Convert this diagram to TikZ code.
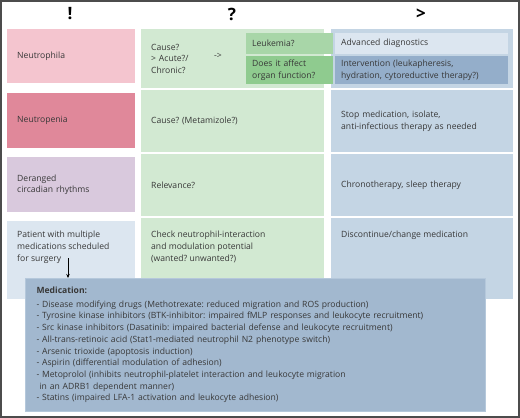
\documentclass[tikz,border=0pt]{standalone}
\usepackage{xcolor}
\usepackage{fontspec}
\setsansfont{Open Sans}
\usepackage{tikz}
\usetikzlibrary{arrows.meta}
\frenchspacing

\definecolor{rosel}{HTML}{F4C5CF}
\definecolor{rosed}{HTML}{E0889A}
\definecolor{lilac}{HTML}{D9C9DD}
\definecolor{skyl}{HTML}{DCE6F0}
\definecolor{mintbg}{HTML}{D2E9D2}
\definecolor{mintl}{HTML}{A8D6A8}
\definecolor{mintd}{HTML}{8FCB8F}
\definecolor{steelbg}{HTML}{C4D5E4}
\definecolor{steeld}{HTML}{94AECA}
\definecolor{medfill}{HTML}{A2B8CF}
\definecolor{medline}{HTML}{B5C8DB}
\definecolor{ink}{HTML}{383838}

\begin{document}
\begin{tikzpicture}[x=1pt, y=-1pt,
  every node/.style={font=\sffamily\frenchspacing\fontsize{8.6}{11.7}\selectfont, text=ink},
  cell/.style={anchor=north west, inner xsep=10pt, inner ysep=0pt, align=left},
  inbox/.style={anchor=north west, inner xsep=6pt, inner ysep=0pt, align=left},
  head/.style={font=\sffamily\bfseries\fontsize{17}{17}\selectfont, text=black}]

\useasboundingbox (0,0) rectangle (520,418);
\draw[line width=2pt, ink!90] (1,1) rectangle (519,417);

% Headers
\node[head] (hwarn) at (70,14) {!};
\node[head] (hask) at (232,14) {?};
\node[head] (hdo) at (421,14) {>};

% First column
\node[cell, fill=rosel, text width=108pt, minimum height=54pt] (neutrophila) at (7,29) {Neutrophila};
\node[cell, fill=rosed, text width=108pt, minimum height=55pt] (neutropenia) at (7,93) {Neutropenia};
\node[cell, fill=lilac, text width=108pt, minimum height=55pt] (circadian) at (7,157) {Deranged\\circadian rhythms};
\node[cell, fill=skyl, text width=108pt, minimum height=78pt] (patient) at (7,221) {};

% Second column
\node[cell, fill=mintbg, text width=163pt, minimum height=59pt] (cause) at (141,29) {Cause?\\> Acute?/\\Chronic?};
\node[cell, fill=mintbg, text width=163pt, minimum height=62pt] (metamizole) at (141,90) {Cause? (Metamizole?)};
\node[cell, fill=mintbg, text width=163pt, minimum height=62pt] (relevance) at (141,154) {Relevance?};
\node[cell, fill=mintbg, text width=163pt, minimum height=81pt] (check) at (141,218) {};

% Third column
\node[cell, fill=steelbg, text width=162pt, minimum height=59pt] (treat) at (331,29) {};
\node[cell, fill=steelbg, text width=162pt, minimum height=62pt] (stop) at (331,90) {Stop medication, isolate,\\anti-infectious therapy as needed};
\node[cell, fill=steelbg, text width=162pt, minimum height=62pt] (chrono) at (331,154) {Chronotherapy, sleep therapy};
\node[cell, fill=steelbg, text width=162pt, minimum height=81pt] (discont) at (331,218) {};

% Boxes inside the first row
\node[inbox, fill=mintl, text width=75pt, minimum height=21pt] (leukemia) at (246,33) {Leukemia?};
\node[inbox, fill=mintd, text width=75pt, minimum height=28pt] (organ) at (246,56) {Does it affect\\organ function?};
\node[inbox, fill=skyl, text width=161pt, minimum height=21pt] (diag) at (335,33) {Advanced diagnostics};
\node[inbox, fill=steeld, text width=161pt, minimum height=28pt] (interv) at (335,56) {Intervention (leukapheresis,\\hydration, cytoreductive therapy?)};
\node (then) at (218,56) {->};

% Texts of the last row
\node[anchor=north west, inner sep=0pt, align=left] (patienttxt) at (17,231) {Patient with multiple\\medications scheduled\\for surgery};
\node[anchor=north west, inner sep=0pt, align=left] (checktxt) at (151,231) {Check neutrophil-interaction\\and modulation potential\\(wanted? unwanted?)};
\node[anchor=north west, inner sep=0pt, align=left] (discontxt) at (341,231) {Discontinue/change medication};

% Medication box
\node[anchor=north west, fill=medfill, draw=medline, line width=1pt, minimum width=460pt, minimum height=133pt, inner xsep=11pt, text width=438pt, align=left] (medbox) at (25,278)
{\textbf{Medication:}\\[1.9pt]
- Disease modifying drugs (Methotrexate: reduced migration and ROS production)\\
- Tyrosine kinase inhibitors (BTK-inhibitor: impaired fMLP responses and leukocyte recruitment)\\
- Src kinase inhibitors (Dasatinib: impaired bacterial defense and leukocyte recruitment)\\
- All-trans-retinoic acid (Stat1-mediated neutrophil N2 phenotype switch)\\
- Arsenic trioxide (apoptosis induction)\\
- Aspirin (differential modulation of adhesion)\\
- Metoprolol (inhibits neutrophil-platelet interaction and leukocyte migration\\
\hspace*{3pt}in an ADRB1 dependent manner)\\
- Statins (impaired LFA-1 activation and leukocyte adhesion)};

% Arrow
\coordinate (surgery) at (68,258);
\draw[-{Stealth[length=4pt, width=3.5pt]}, black, line width=0.6pt] (surgery) -- (surgery |- medbox.north);

\end{tikzpicture}
\end{document}
